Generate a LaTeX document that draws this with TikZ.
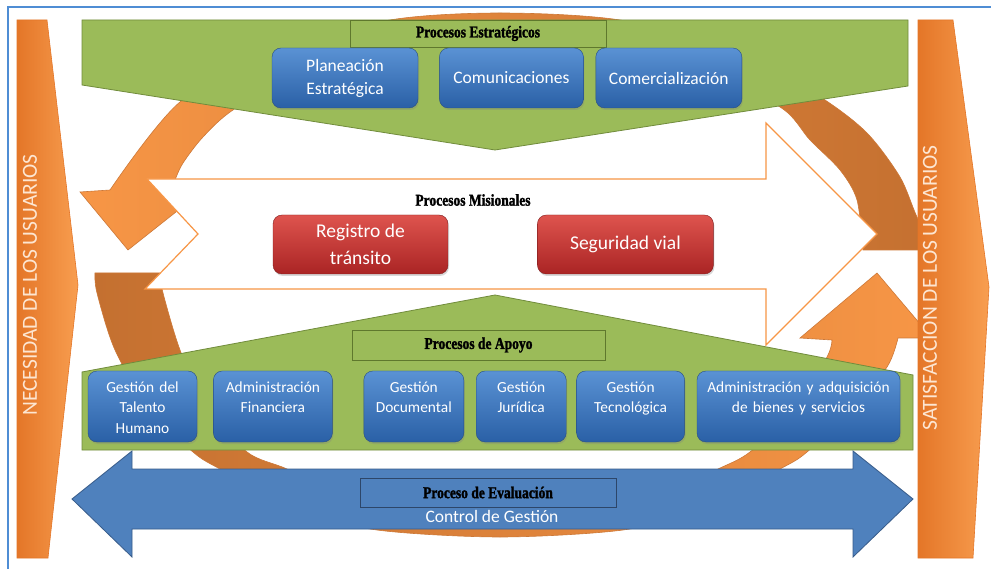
\documentclass[tikz,border=0pt]{standalone}
\usepackage{fontspec}
\setmainfont{Carlito}
\newfontfamily\headfont[FakeStretch=0.82, FakeBold=1.6]{Liberation Serif}
\usetikzlibrary{positioning, shadows}
\definecolor{frameblue}{RGB}{79,141,212}
\definecolor{ringlight}{RGB}{247,150,70}
\definecolor{ringdark}{RGB}{196,112,48}
\definecolor{ringedge}{RGB}{205,120,55}
\definecolor{procgreen}{RGB}{155,187,89}
\definecolor{greenedge}{RGB}{113,140,60}
\definecolor{titleedge}{RGB}{95,120,45}
\definecolor{boxtop}{RGB}{90,146,212}
\definecolor{boxbot}{RGB}{42,96,166}
\definecolor{boxedge}{RGB}{40,78,130}
\definecolor{redtop}{RGB}{222,84,78}
\definecolor{redbot}{RGB}{170,36,36}
\definecolor{rededge}{RGB}{130,30,30}
\definecolor{evalblue}{RGB}{79,129,189}
\definecolor{evaledge}{RGB}{56,92,138}
\definecolor{evaltitle}{RGB}{45,70,105}
\definecolor{barorange}{RGB}{248,158,80}
\definecolor{bardark}{RGB}{228,118,40}
\definecolor{bartext}{RGB}{253,230,210}
\tikzset{
    procbox/.style={rectangle, rounded corners=9pt, draw=boxedge, thin, top color=boxtop, bottom color=boxbot, text=white, align=center, inner sep=0pt, drop shadow={shadow xshift=1pt, shadow yshift=-2pt, opacity=0.3}},
    topbox/.style={procbox, minimum height=60pt, font=\fontsize{17.5}{23}\selectfont},
    lowbox/.style={procbox, minimum height=71pt, text height=15pt, text depth=44pt, font=\fontsize{15.4}{20.5}\selectfont},
    misbox/.style={procbox, top color=redtop, bottom color=redbot, draw=rededge, minimum height=59pt, font=\fontsize{19.5}{27}\selectfont},
    headtitle/.style={font=\headfont\bfseries\fontsize{16.5}{18}\selectfont, text=black, inner sep=0pt},
    titlebox/.style={rectangle, draw=titleedge, line width=0.8pt, fill=procgreen, headtitle},
}

\begin{document}
\begin{tikzpicture}[x=1pt, y=-1pt,
    greenshape/.style={draw=greenedge, line width=0.8pt, fill=procgreen},
    misarrow/.style={draw=ringlight, line width=1.2pt, fill=white},
    ringarrow/.style={draw=ringedge, line width=0.6pt},
    sidebar/.style={draw=bardark, line width=0.6pt, left color=bardark, right color=barorange},
    evalarrow/.style={draw=evaledge, line width=0.8pt, fill=evalblue},
    sidetext/.style={rotate=90, text=bartext, inner sep=0pt, font=\fontsize{21.5}{24}\selectfont}
]
\useasboundingbox (0,0) rectangle (991,569);
\fill[white] (0,0) rectangle (991,569);

% Frame
\draw[frameblue, line width=2.2pt] (8,569) -- (8,7) -- (991,7);

% Circular arrows behind everything
\path[ringarrow, left color=ringlight, right color=ringdark]
    plot[smooth] coordinates {(935,250) (917,217) (900,177) (867,133) (822,98) (740,50) (620,20) (500,13) (390,20) (280,50) (180,102) (110,190)}
    -- (80,192) -- (128,250) -- (210,185)
    -- plot[smooth] coordinates {(175,180) (183,163) (203,137) (233,110) (300,72) (500,56) (700,72) (780,107) (810,140) (840,170) (857,200) (863,250)}
    -- cycle;
\path[ringarrow, left color=ringdark, right color=ringlight]
    plot[smooth] coordinates {(95,273) (97,293) (115,350) (150,410) (193,452) (220,469) (300,510) (377,530) (500,537) (623,530) (700,510) (780,469) (807,452) (850,410) (887,367) (898,338)}
    -- (932,338) -- (877,273) -- (800,338)
    -- plot[smooth] coordinates {(832,340) (827,357) (795,410) (750,452) (718,469) (660,495) (500,508) (340,495) (287,469) (247,452) (205,405) (180,350) (163,293) (160,273)}
    -- cycle;

% Misionales arrow
\draw[misarrow] (147,179) -- (766,179) -- (766,123) -- (877,234) -- (766,345) -- (766,289) -- (145,289) -- (198,234) -- cycle;

% Green wedges
\draw[greenshape] (82,20) -- (908,20) -- (908,86) -- (495,150) -- (82,85) -- cycle;
\draw[greenshape] (82,372) -- (495,295) -- (913,375) -- (913,450) -- (82,450) -- cycle;

% Strategic processes
\node[titlebox, minimum width=256pt, minimum height=27pt] (estr-title) at (478,33.5) {Procesos Estratégicos};
\node[topbox, minimum width=146pt] (plan) at (345,78) {Planeación\\Estratégica};
\node[topbox, minimum width=144pt, right=21pt of plan] (comu) {Comunicaciones};
\node[topbox, minimum width=146pt, right=12pt of comu] (comer) {Comercialización};

% Missional processes
\node[headtitle] (mision-title) at (473,200) {Procesos Misionales};
\node[misbox, minimum width=175pt] (reg) at (360.5,244.5) {Registro de\\tránsito};
\node[misbox, minimum width=176pt, right=89pt of reg] (seg) {Seguridad vial};

% Support processes
\node[titlebox, minimum width=253pt, minimum height=30pt] (apoyo-title) at (478.5,345) {Procesos de Apoyo};
\node[lowbox, minimum width=109pt, text width=100pt] (talento) at (142.5,406.5) {Gestión del\\Talento\\Humano};
\node[lowbox, minimum width=119pt, text width=112pt, right=16pt of talento] (finan) {Administración\\Financiera};
\node[lowbox, minimum width=100pt, text width=94pt, right=31pt of finan] (docu) {Gestión\\Documental};
\node[lowbox, minimum width=90pt, text width=84pt, right=12pt of docu] (juri) {Gestión\\Jurídica};
\node[lowbox, minimum width=108pt, text width=100pt, right=10pt of juri] (tecno) {Gestión\\Tecnológica};
\node[lowbox, minimum width=203pt, text width=196pt, right=12pt of tecno] (bienes) {Administración y adquisición\\de bienes y servicios};

% Side bars
\draw[sidebar] (17,20) -- (47,20) -- (78,285) -- (48,558) -- (17,558) -- cycle;
\draw[sidebar] (918,20) -- (953,20) -- (989,287) -- (973,558) -- (918,558) -- cycle;
\node[sidetext] (need) at (30,285) {NECESIDAD DE LOS USUARIOS};
\node[sidetext] (satis) at (930,288) {SATISFACCION DE LOS USUARIOS};

% Evaluation arrow
\draw[evalarrow] (72,499) -- (132,451) -- (132,469) -- (853,469) -- (853,451) -- (913,499) -- (853,557) -- (853,529) -- (132,529) -- (132,557) -- cycle;
\node[titlebox, fill=evalblue, draw=evaltitle, minimum width=256pt, minimum height=29pt] (eval-title) at (488,492.5) {Proceso de Evaluación};
\node[below=3pt of eval-title, xshift=4pt, inner sep=0pt, text=white, font=\fontsize{17.5}{20}\selectfont] (eval-sub) {Control de Gestión};

\end{tikzpicture}
\end{document}
